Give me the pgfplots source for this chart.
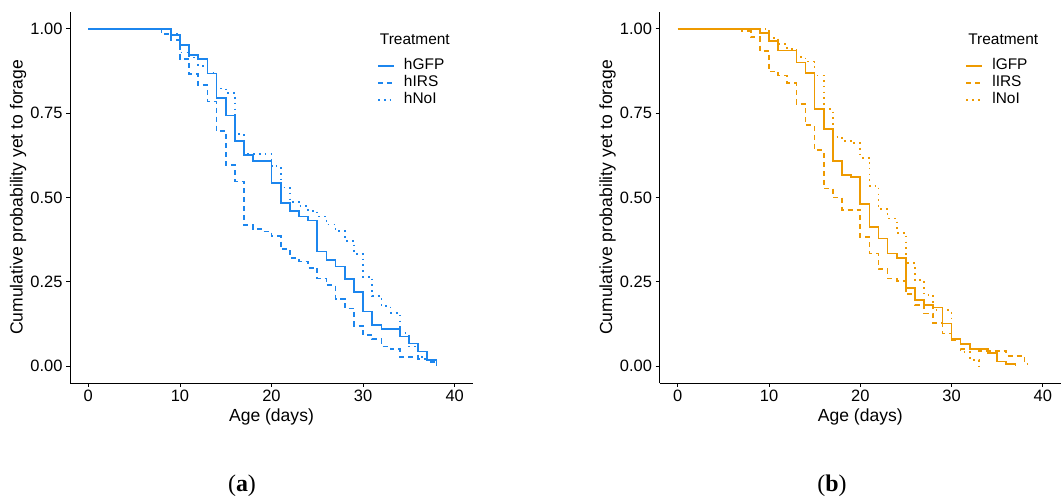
\documentclass[border=0pt]{standalone}
\usepackage{pgfplots}
\pgfplotsset{compat=1.18}
\usepackage{fontspec}
\setmainfont{Liberation Sans}
\newfontfamily\capfont{Liberation Serif}
\definecolor{cblue}{RGB}{28,134,238}
\definecolor{corange}{RGB}{238,154,0}

\pgfplotsset{
  km/.style={
    scale only axis, width=403bp, height=371bp,
    xmin=-2, xmax=42, ymin=-0.05, ymax=1.05,
    axis x line*=bottom, axis y line*=left,
    axis line style={line width=0.8bp, black},
    xtick={0,10,20,30,40}, xticklabels={0,10,20,30,40},
    ytick={0,0.25,0.5,0.75,1}, yticklabels={0.00,0.25,0.50,0.75,1.00},
    tick align=outside, major tick length=4bp,
    major tick style={line width=0.8bp, black},
    minor tick num=0,
    xticklabel style={font=\fontsize{16.5}{18}\selectfont},
    yticklabel style={font=\fontsize{16.5}{18}\selectfont},
    xlabel={Age (days)}, ylabel={Cumulative probability yet to forage},
    every axis x label/.style={at={(axis description cs:0.5,-0.0916)},anchor=center,font=\fontsize{17.6}{20}\selectfont},
    every axis y label/.style={at={(axis description cs:-0.129,0.5)},rotate=90,anchor=center,font=\fontsize{17.6}{20}\selectfont},
    legend cell align=left,
    legend style={at={(axis description cs:0.762,0.943)}, anchor=north west,
      draw=none, fill=none, font=\fontsize{15.5}{17}\selectfont,
      inner sep=0bp, row sep=0bp,
      nodes={inner sep=0bp, text height=11.5bp, text depth=5.5bp},
      /tikz/every odd column/.append style={column sep=9bp}},
    legend image code/.code={\draw[#1] (0bp,0bp) -- (16bp,0bp);},
    solidk/.style={line width=1.7bp, const plot},
    dashk/.style={line width=1.7bp, const plot, dash pattern=on 5bp off 4bp},
    dotk/.style={line width=1.7bp, const plot, dash pattern=on 1.6bp off 4.2bp},
  }
}

\begin{document}
\begin{tikzpicture}
\path[use as bounding box] (0,0) rectangle (1061bp,499bp);

% ---------------- (a) ----------------
\begin{axis}[km, at={(70bp,116bp)}, anchor=south west]
\addlegendimage{empty legend}
\addlegendentry[text depth=12.8bp]{\hspace{-24bp}Treatment}
\addplot[cblue, solidk] coordinates {
(0,1) (9,0.982) (10,0.953) (11,0.923) (12,0.91) (13,0.868) (14,0.794) (15,0.743)
(16,0.668) (17,0.626) (18,0.609) (20,0.542) (21,0.483) (22,0.460) (23,0.444)
(24,0.432) (25,0.340) (26,0.315) (27,0.295) (28,0.258) (29,0.220) (30,0.162)
(31,0.123) (32,0.111) (34,0.088) (35,0.067) (36,0.043) (37,0.018) (38,0)};
\addlegendentry{hGFP}
\addplot[cblue, dashk] coordinates {
(0,1) (8,0.985) (9,0.967) (10,0.91) (11,0.867) (12,0.833) (13,0.785) (14,0.697)
(15,0.597) (16,0.547) (17,0.418) (18,0.407) (19,0.399) (20,0.386) (21,0.347)
(22,0.32) (23,0.31) (24,0.292) (25,0.26) (26,0.24) (27,0.199) (28,0.171)
(29,0.12) (30,0.092) (31,0.08) (32,0.058) (33,0.05) (34,0.028) (36,0.022)
(37,0.013) (38,0.013)};
\addlegendentry{hIRS}
\addplot[cblue, dotk] coordinates {
(0,1) (9,0.985) (10,0.93) (11,0.915) (12,0.89) (13,0.87) (14,0.823) (15,0.81)
(16,0.688) (17,0.629) (20,0.593) (21,0.53) (22,0.487) (23,0.474) (24,0.46)
(25,0.444) (26,0.42) (27,0.40) (28,0.372) (29,0.332) (30,0.265) (31,0.208)
(32,0.178) (33,0.158) (34,0.098) (35,0.058) (36,0.027) (37,0.02) (38,0.02)};
\addlegendentry{hNoI}
\end{axis}

% ---------------- (b) ----------------
\begin{axis}[km, width=401.5bp, at={(659.5bp,116bp)}, anchor=south west]
\addlegendimage{empty legend}
\addlegendentry[text depth=12.8bp]{\hspace{-24bp}Treatment}
\addplot[corange, solidk] coordinates {
(0,1) (9,0.987) (10,0.965) (11,0.936) (13,0.90) (14,0.87) (15,0.763) (16,0.703)
(17,0.608) (18,0.567) (19,0.56) (20,0.48) (21,0.413) (22,0.378) (23,0.334)
(24,0.321) (25,0.232) (26,0.196) (27,0.181) (28,0.174) (29,0.126) (30,0.08)
(31,0.065) (32,0.051) (34,0.038) (35,0.014) (36,0.007) (37,0)};
\addlegendentry{lGFP}
\addplot[corange, dashk] coordinates {
(0,1) (7,0.993) (8,0.975) (9,0.935) (10,0.874) (11,0.862) (12,0.839) (13,0.777)
(14,0.714) (15,0.64) (16,0.527) (17,0.50) (18,0.463) (20,0.382) (21,0.334)
(22,0.287) (23,0.26) (24,0.253) (25,0.213) (26,0.181) (27,0.156) (28,0.127)
(29,0.097) (30,0.077) (31,0.05) (33,0.045) (36,0.03) (38,0.006) (38.3,0.006)};
\addlegendentry{lIRS}
\addplot[corange, dotk] coordinates {
(0,1) (10,0.973) (11,0.955) (12,0.94) (13,0.916) (14,0.903) (15,0.862) (16,0.762)
(17,0.68) (18,0.668) (19,0.661) (20,0.618) (21,0.535) (22,0.466) (23,0.438)
(24,0.395) (25,0.305) (26,0.255) (27,0.211) (28,0.166) (30,0.082) (31,0.042)
(32,0.018) (33,0)};
\addlegendentry{lNoI}
\end{axis}

\node[font=\capfont\fontsize{24}{26}\selectfont] at (242bp,13bp) {(\textbf{a})};
\node[font=\capfont\fontsize{24}{26}\selectfont] at (832bp,13bp) {(\textbf{b})};
\end{tikzpicture}
\end{document}
